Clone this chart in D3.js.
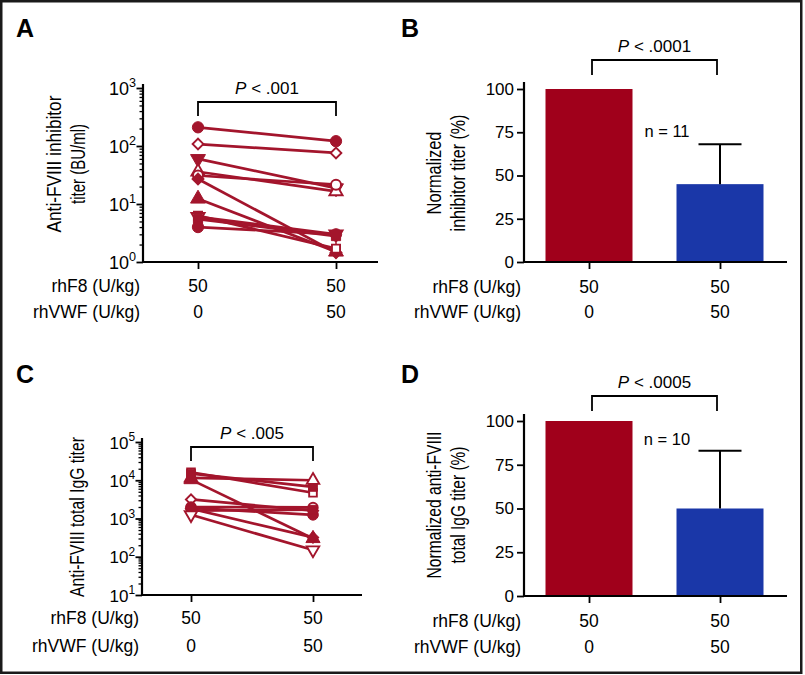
<!DOCTYPE html>
<html>
<head>
<meta charset="utf-8">
<script src="https://cdnjs.cloudflare.com/ajax/libs/d3/7.8.5/d3.min.js"></script>
<style>
  body { margin: 0; background: #fff; }
  svg { display: block; font-family: "Liberation Sans", Arial, sans-serif; }
</style>
</head>
<body>
<svg id="chart" width="805" height="675"></svg>
<script>

// groups on the x axis
var groups = ['pre', 'post'];
var rhF8Labels = ['50', '50'];
var rhVWFLabels = ['0', '50'];

// A: anti-FVIII inhibitor titer (BU/ml), one pair per mouse
var inhibitorPre  = [210, 108, 60, 36, 31, 27, 12.3, 6.3, 6.0, 5.5, 4.0];
var inhibitorPost = [121, 76, 18.8, 16.5, 21.5, 1.45, 1.5, 1.7, 3.0, 2.8, 3.0];
var inhibitorMarkers = ['circle-f', 'diamond-o', 'tridown-f', 'triup-o', 'circle-o', 'diamond-f',
                        'triup-f', 'square-o', 'tridown-o', 'square-f', 'circle-f'];
var inhibitorTicks = [1, 10, 100, 1000];

// B: normalized inhibitor titer (%)
var inhibitorNorm = [100, 45];
var inhibitorNormSD = [0, 23];

// C: anti-FVIII total IgG titer
var iggPre  = [16200, 14900, 11500, 10400, 3150, 2000, 1900, 1800, 1600, 1250];
var iggPost = [4700, 6700, 10000, 300, 1600, 1950, 1250, 320, 1700, 150];
var iggMarkers = ['square-o', 'square-f', 'triup-o', 'triup-f', 'diamond-o', 'circle-o',
                  'circle-f', 'diamond-f', 'square-f', 'tridown-o'];
var iggTicks = [10, 100, 1000, 10000, 100000];

// D: normalized total IgG titer (%)
var iggNorm = [100, 50];
var iggNormSD = [0, 33];

var percentTicks = [0, 25, 50, 75, 100];

var red = '#A3152C';
var barColors = ['#A0001B', '#1A37A8'];

var svg = d3.select('#chart');

// frame
svg.append('rect')
  .attr('x', 1.25).attr('y', 1.25)
  .attr('width', 800).attr('height', 671.5)
  .attr('fill', 'none')
  .attr('stroke', '#1a1a1a')
  .attr('stroke-width', 2.5);

/******************************************/
//               helpers                  //
/******************************************/

function drawMarker(g, type, x, y, scale){
  var parts = type.split('-');
  var filled = parts[1] === 'f';
  var sym = d3.symbolCircle, rot = 0, size = 100;
  if(parts[0] === 'square'){ sym = d3.symbolSquare; size = 84; }
  else if(parts[0] === 'diamond'){ sym = d3.symbolSquare; rot = 45; size = 74; }
  else if(parts[0] === 'triup'){ sym = d3.symbolTriangle; size = 96; }
  else if(parts[0] === 'tridown'){ sym = d3.symbolTriangle; rot = 180; size = 96; }
  size = size * scale;
  if(!filled) size = size * 0.78;
  g.append('path')
    .attr('d', d3.symbol().type(sym).size(size)())
    .attr('transform', 'translate(' + x + ',' + y + ') rotate(' + rot + ')')
    .attr('fill', filled ? red : '#fff')
    .attr('stroke', red)
    .attr('stroke-width', filled ? 1 : 1.9);
}

function panelLetter(letter, x, y){
  svg.append('text')
    .attr('x', x).attr('y', y)
    .attr('font-size', 25)
    .attr('font-weight', 'bold')
    .text(letter);
}

// condensed rotated titles: measure then squeeze horizontally
function yTitle(lines, cy){
  lines.forEach(function(l){
    var t = svg.append('text')
      .attr('text-anchor', 'middle')
      .attr('font-size', 20)
      .text(l.text);
    var natural = t.node().getComputedTextLength();
    t.attr('transform', 'translate(' + l.x + ',' + cy + ') rotate(-90) scale(' + (l.len / natural) + ',1)');
  });
}

function bracket(x0, x1, yTop, yDrop, label, labelY){
  svg.append('path')
    .attr('d', 'M' + x0 + ',' + yDrop + 'V' + yTop + 'H' + x1 + 'V' + yDrop)
    .attr('fill', 'none')
    .attr('stroke', '#000')
    .attr('stroke-width', 1.8);
  var t = svg.append('text')
    .attr('x', (x0 + x1) / 2).attr('y', labelY)
    .attr('text-anchor', 'middle')
    .attr('font-size', 17);
  t.append('tspan').attr('font-style', 'italic').text('P');
  t.append('tspan').text(' < ' + label);
}

function xLabels(x, labelRight, y1, y2){
  svg.append('text').attr('x', labelRight).attr('y', y1)
    .attr('text-anchor', 'end').attr('font-size', 17.5).text('rhF8 (U/kg)');
  svg.append('text').attr('x', labelRight).attr('y', y2)
    .attr('text-anchor', 'end').attr('font-size', 17.5).text('rhVWF (U/kg)');
  groups.forEach(function(g, i){
    svg.append('text').attr('x', x(g)).attr('y', y1)
      .attr('text-anchor', 'middle').attr('font-size', 17.5).text(rhF8Labels[i]);
    svg.append('text').attr('x', x(g)).attr('y', y2)
      .attr('text-anchor', 'middle').attr('font-size', 17.5).text(rhVWFLabels[i]);
  });
}

function xAxis(x, axisX, xEnd, yBottom){
  svg.append('line')
    .attr('x1', axisX - 1).attr('x2', xEnd)
    .attr('y1', yBottom).attr('y2', yBottom)
    .attr('stroke', '#000').attr('stroke-width', 2.2);
  var ax = svg.append('g')
    .attr('transform', 'translate(0,' + yBottom + ')')
    .call(d3.axisBottom(x).tickSize(7).tickFormat(''));
  ax.select('.domain').remove();
  ax.selectAll('line').attr('stroke-width', 1.8);
}

/******************************************/
//          paired log panels (A, C)      //
/******************************************/

function logPanel(o){
  var y = d3.scaleLog()
    .domain([o.ticks[0], o.ticks[o.ticks.length - 1]])
    .range([o.yBottom, o.yTop]);
  var x = d3.scalePoint().domain(groups).range([o.cx0, o.cx1]);

  var minors = [];
  for(var i = 0; i < o.ticks.length - 1; i++){
    for(var k = 2; k < 10; k++) minors.push(o.ticks[i] * k);
  }

  var minorAxis = svg.append('g')
    .attr('transform', 'translate(' + o.axisX + ',0)')
    .call(d3.axisLeft(y).tickValues(minors).tickSize(3.5).tickFormat('').tickSizeOuter(0));
  minorAxis.select('.domain').remove();
  minorAxis.selectAll('line').attr('stroke-width', 1.3);

  var majorAxis = svg.append('g')
    .attr('transform', 'translate(' + o.axisX + ',0)')
    .call(d3.axisLeft(y).tickValues(o.ticks).tickSize(6.5).tickFormat('').tickSizeOuter(0));
  majorAxis.select('.domain').remove();
  majorAxis.selectAll('line').attr('stroke-width', 1.8);

  svg.append('line')
    .attr('x1', o.axisX).attr('x2', o.axisX)
    .attr('y1', o.yBottom).attr('y2', o.yTop - 4)
    .attr('stroke', '#000').attr('stroke-width', 2.2);

  o.ticks.forEach(function(t){
    var lbl = svg.append('text')
      .attr('x', o.axisX - 7).attr('y', y(t) + 6.5)
      .attr('text-anchor', 'end')
      .attr('font-size', o.tickFont);
    lbl.append('tspan').text('10');
    lbl.append('tspan')
      .attr('dy', -7.5)
      .attr('font-size', o.tickFont * 0.7)
      .text(Math.round(Math.log10(t)));
  });

  xAxis(x, o.axisX, o.xEnd, o.yBottom);

  // paired lines
  var lines = svg.append('g');
  o.pre.forEach(function(v, i){
    lines.append('line')
      .attr('x1', x('pre')).attr('y1', y(v))
      .attr('x2', x('post')).attr('y2', y(o.post[i]))
      .attr('stroke', red)
      .attr('stroke-width', 2.7);
  });
  var marks = svg.append('g');
  o.pre.forEach(function(v, i){
    drawMarker(marks, o.markers[i], x('pre'), y(v), o.markScale);
    drawMarker(marks, o.markers[i], x('post'), y(o.post[i]), o.markScale);
  });

  bracket(x('pre'), x('post'), o.bracketY, o.bracketY + 14, o.p, o.bracketY - 8);
  xLabels(x, o.axisX - 3, o.labelY1, o.labelY2);
}

/******************************************/
//          normalized bar panels (B, D)  //
/******************************************/

function barPanel(o){
  var y = d3.scaleLinear().domain([0, 100]).range([o.yBottom, o.yTop]);
  var x = d3.scalePoint().domain(groups).range([589, 720]);
  var barW = 87;

  svg.append('g').selectAll('rect')
    .data(o.means)
    .enter().append('rect')
    .attr('x', function(d, i){ return x(groups[i]) - barW / 2; })
    .attr('y', function(d){ return y(d); })
    .attr('width', barW)
    .attr('height', function(d){ return o.yBottom - y(d); })
    .attr('fill', function(d, i){ return barColors[i]; });

  // error bar (upward only)
  var cx = x('post');
  var top = y(o.means[1] + o.sd[1]);
  svg.append('line')
    .attr('x1', cx).attr('x2', cx)
    .attr('y1', y(o.means[1])).attr('y2', top)
    .attr('stroke', '#000').attr('stroke-width', 2);
  svg.append('line')
    .attr('x1', cx - 21.5).attr('x2', cx + 21.5)
    .attr('y1', top).attr('y2', top)
    .attr('stroke', '#000').attr('stroke-width', 2);

  var yAx = svg.append('g')
    .attr('transform', 'translate(' + o.axisX + ',0)')
    .call(d3.axisLeft(y).tickValues(percentTicks).tickSize(7).tickPadding(3).tickSizeOuter(0));
  yAx.select('.domain').remove();
  yAx.selectAll('line').attr('stroke-width', 1.8);
  yAx.selectAll('text')
    .attr('font-size', 17)
    .attr('font-family', '"Liberation Sans", Arial, sans-serif')
    .attr('fill', '#000');

  svg.append('line')
    .attr('x1', o.axisX).attr('x2', o.axisX)
    .attr('y1', o.yBottom).attr('y2', o.yTop - 7)
    .attr('stroke', '#000').attr('stroke-width', 2.2);

  xAxis(x, o.axisX, 787, o.yBottom);

  svg.append('text')
    .attr('x', 667).attr('y', o.nY)
    .attr('text-anchor', 'middle')
    .attr('font-size', 16.5)
    .text(o.n);

  bracket(x('pre') + 3, x('post') - 3, o.bracketY, o.bracketY + 15, o.p, o.bracketY - 8);
  xLabels(x, 521, o.labelY1, o.labelY2);
}

/******************************************/
//                 panels                 //
/******************************************/

panelLetter('A', 16, 37);
logPanel({
  pre: inhibitorPre, post: inhibitorPost, markers: inhibitorMarkers, ticks: inhibitorTicks,
  axisX: 143, xEnd: 378, yTop: 88, yBottom: 262, cx0: 198, cx1: 336, tickFont: 18, markScale: 1,
  bracketY: 102, p: '.001', labelY1: 292, labelY2: 318
});
yTitle([
  { text: 'Anti-FVIII inhibitor', x: 61, len: 137 },
  { text: 'titer (BU/ml)', x: 85, len: 80 }
], 164);

panelLetter('B', 401, 37);
barPanel({
  means: inhibitorNorm, sd: inhibitorNormSD, axisX: 524, yTop: 89, yBottom: 262,
  bracketY: 60, p: '.0001', n: 'n = 11', nY: 137, labelY1: 293, labelY2: 318
});
yTitle([
  { text: 'Normalized', x: 441, len: 83 },
  { text: 'inhibitor titer (%)', x: 465, len: 117 }
], 173);

panelLetter('C', 16, 383);
logPanel({
  pre: iggPre, post: iggPost, markers: iggMarkers, ticks: iggTicks,
  axisX: 142, xEnd: 362, yTop: 442, yBottom: 595, cx0: 191, cx1: 313, tickFont: 17, markScale: 0.9,
  bracketY: 447, p: '.005', labelY1: 624, labelY2: 652
});
yTitle([
  { text: 'Anti-FVIII total IgG titer', x: 84, len: 160 }
], 517);

panelLetter('D', 401, 383);
barPanel({
  means: iggNorm, sd: iggNormSD, axisX: 524, yTop: 421, yBottom: 596,
  bracketY: 396, p: '.0005', n: 'n = 10', nY: 445, labelY1: 627, labelY2: 653
});
yTitle([
  { text: 'Normalized anti-FVIII', x: 441, len: 147 },
  { text: 'total IgG titer (%)', x: 465, len: 117 }
], 505);

</script>
</body>
</html>
